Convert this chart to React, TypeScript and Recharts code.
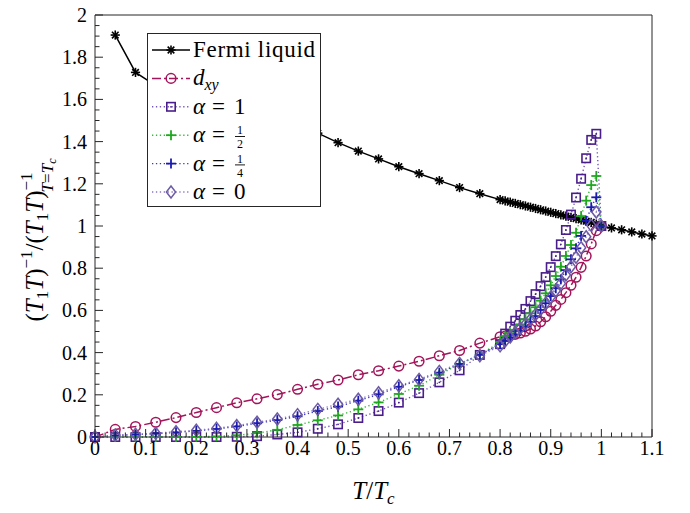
import React from "react";
import { Label, Legend, Line, LineChart, XAxis, YAxis } from "recharts";

const SERIF = "'Liberation Serif', 'DejaVu Serif', serif";
const AXIS = "#262626";

// temperature grid shared by d_xy and the alpha curves (T/Tc)
const tGrid = [
  0, 0.04, 0.08, 0.12, 0.16, 0.2, 0.24, 0.28, 0.32, 0.36, 0.4, 0.44, 0.48, 0.52, 0.56, 0.6, 0.64, 0.68, 0.72, 0.76, 0.8,
  0.81, 0.82, 0.83, 0.84, 0.85, 0.86, 0.87, 0.88, 0.89, 0.9, 0.91, 0.92, 0.93, 0.94, 0.95, 0.96, 0.97, 0.98, 0.99, 1.0,
];

const flT = [
  0.04, 0.08, 0.12, 0.16, 0.2, 0.24, 0.28, 0.32, 0.36, 0.4, 0.44, 0.48, 0.52, 0.56, 0.6, 0.64, 0.68, 0.72, 0.76, 0.8,
  0.81, 0.82, 0.83, 0.84, 0.85, 0.86, 0.87, 0.88, 0.89, 0.9, 0.91, 0.92, 0.93, 0.94, 0.95, 0.96, 0.97, 0.98, 0.99, 1.0,
  1.02, 1.04, 1.06, 1.08, 1.1,
];
const flValues = [
  1.905, 1.728, 1.665, 1.63, 1.6, 1.57, 1.545, 1.52, 1.495, 1.47, 1.44, 1.395, 1.355, 1.318, 1.281, 1.248, 1.215, 1.182,
  1.153, 1.125, 1.119, 1.113, 1.107, 1.101, 1.095, 1.089, 1.083, 1.077, 1.071, 1.065, 1.059, 1.053, 1.047, 1.041, 1.035,
  1.029, 1.023, 1.017, 1.009, 1.0, 0.991, 0.982, 0.972, 0.962, 0.953,
];
const dxyValues = [
  0, 0.036, 0.05, 0.07, 0.092, 0.116, 0.139, 0.162, 0.181, 0.201, 0.226, 0.25, 0.27, 0.295, 0.314, 0.336, 0.359, 0.385,
  0.41, 0.445, 0.475, 0.478, 0.482, 0.487, 0.493, 0.501, 0.512, 0.526, 0.546, 0.57, 0.596, 0.624, 0.652, 0.684, 0.719,
  0.757, 0.804, 0.858, 0.915, 0.978, 1.0,
];
const alpha1Values = [
  0, 0, 0, 0, 0, 0, 0, 0.001, 0.004, 0.012, 0.022, 0.039, 0.06, 0.09, 0.123, 0.163, 0.208, 0.259, 0.316, 0.389, 0.44,
  0.49, 0.523, 0.551, 0.578, 0.607, 0.644, 0.677, 0.715, 0.758, 0.805, 0.857, 0.913, 0.981, 1.054, 1.135, 1.224, 1.321,
  1.408, 1.437, 1.0,
];
const alphaHalfValues = [
  0, 0, 0, 0, 0, 0.001, 0.003, 0.008, 0.018, 0.034, 0.057, 0.079, 0.102, 0.131, 0.164, 0.204, 0.243, 0.295, 0.346, 0.39,
  0.45, 0.478, 0.492, 0.507, 0.534, 0.558, 0.586, 0.615, 0.646, 0.681, 0.719, 0.763, 0.807, 0.858, 0.91, 0.968, 1.047,
  1.12, 1.194, 1.237, 1.0,
];
const alphaQuarterValues = [
  0, 0.007, 0.011, 0.016, 0.022, 0.029, 0.038, 0.05, 0.065, 0.08, 0.098, 0.123, 0.144, 0.172, 0.202, 0.238, 0.27, 0.305,
  0.346, 0.39, 0.44, 0.455, 0.47, 0.486, 0.503, 0.523, 0.546, 0.573, 0.602, 0.634, 0.668, 0.705, 0.747, 0.791, 0.842,
  0.894, 0.953, 1.025, 1.089, 1.136, 1.0,
];
const alpha0Values = [
  0, 0.009, 0.013, 0.018, 0.025, 0.032, 0.041, 0.054, 0.07, 0.085, 0.106, 0.131, 0.155, 0.179, 0.21, 0.243, 0.273, 0.311,
  0.349, 0.385, 0.432, 0.455, 0.474, 0.495, 0.515, 0.535, 0.558, 0.581, 0.605, 0.634, 0.662, 0.693, 0.728, 0.768, 0.807,
  0.852, 0.897, 0.949, 1.003, 1.066, 1.0,
];

// all tick positions; majors every 0.1 (x) and 0.2 (y) get labels
const xTicks = Array.from({ length: 56 }, (_, i) => +(i * 0.02).toFixed(2));
const yTicks = Array.from({ length: 41 }, (_, i) => +(i * 0.05).toFixed(2));
const isMajor = (v: number, step: number) => Math.abs(v / step - Math.round(v / step)) < 1e-6;

const MAJOR = 8;
const MINOR = 4.5;

function BottomTick({ x, y, payload }: any) {
  const v = payload.value;
  const major = isMajor(v, 0.1);
  return (
    <g>
      <line x1={x} x2={x} y1={y} y2={y - (major ? MAJOR : MINOR)} stroke={AXIS} strokeWidth={1} />
      {major && (
        <text x={x} y={y + 18} textAnchor="middle" fontFamily={SERIF} fontSize={20} fill="#000">
          {String(+v.toFixed(1))}
        </text>
      )}
    </g>
  );
}
function TopTick({ x, y, payload }: any) {
  const major = isMajor(payload.value, 0.1);
  return <line x1={x} x2={x} y1={y} y2={y + (major ? MAJOR : MINOR)} stroke={AXIS} strokeWidth={1} />;
}
function LeftTick({ x, y, payload }: any) {
  const v = payload.value;
  const major = isMajor(v, 0.2);
  return (
    <g>
      <line x1={x} x2={x + (major ? MAJOR : MINOR)} y1={y} y2={y} stroke={AXIS} strokeWidth={1} />
      {major && (
        <text x={x - 8} y={y + 7} textAnchor="end" fontFamily={SERIF} fontSize={20} fill="#000">
          {String(+v.toFixed(1))}
        </text>
      )}
    </g>
  );
}
function RightTick({ x, y, payload }: any) {
  const major = isMajor(payload.value, 0.2);
  return <line x1={x} x2={x - (major ? MAJOR : MINOR)} y1={y} y2={y} stroke={AXIS} strokeWidth={1} />;
}

const toPoints = (xs: number[], ys: number[]) => xs.map((x, i) => ({ x, y: ys[i] }));

type Kind = "star" | "circle" | "square" | "plus" | "diamond";

function Marker({ kind, cx, cy, color }: { kind: Kind; cx: number; cy: number; color: string }) {
  if (cx == null || cy == null) return null;
  if (kind === "star") {
    const r = 4.6;
    const d = r * 0.72;
    return (
      <g stroke={color} strokeWidth={1.6}>
        <line x1={cx - r} y1={cy} x2={cx + r} y2={cy} />
        <line x1={cx} y1={cy - r} x2={cx} y2={cy + r} />
        <line x1={cx - d} y1={cy - d} x2={cx + d} y2={cy + d} />
        <line x1={cx - d} y1={cy + d} x2={cx + d} y2={cy - d} />
      </g>
    );
  }
  if (kind === "circle") {
    return <circle cx={cx} cy={cy} r={4.8} fill="none" stroke={color} strokeWidth={1.5} />;
  }
  if (kind === "square") {
    return (
      <g>
        <rect x={cx - 4.2} y={cy - 4.2} width={8.4} height={8.4} fill="none" stroke={color} strokeWidth={1.6} />
        <circle cx={cx} cy={cy} r={0.9} fill={color} />
      </g>
    );
  }
  if (kind === "plus") {
    return (
      <g stroke={color} strokeWidth={1.8}>
        <line x1={cx - 5} y1={cy} x2={cx + 5} y2={cy} />
        <line x1={cx} y1={cy - 5} x2={cx} y2={cy + 5} />
      </g>
    );
  }
  return (
    <polygon
      points={`${cx},${cy - 6} ${cx + 4.6},${cy} ${cx},${cy + 6} ${cx - 4.6},${cy}`}
      fill="none"
      stroke={color}
      strokeWidth={1.5}
    />
  );
}

const series = [
  { id: "fl", kind: "star" as Kind, color: "#000000", line: "#000000", dash: undefined, width: 1.5, data: toPoints(flT, flValues) },
  { id: "dxy", kind: "circle" as Kind, color: "#A3155A", line: "#A3155A", dash: "9 3 2 3", width: 1.5, data: toPoints(tGrid, dxyValues) },
  { id: "a1", kind: "square" as Kind, color: "#4A1E8A", line: "#7456B8", dash: "1.3 2.6", width: 1.4, data: toPoints(tGrid, alpha1Values) },
  { id: "aHalf", kind: "plus" as Kind, color: "#1FA81F", line: "#35B835", dash: "1.3 2.6", width: 1.4, data: toPoints(tGrid, alphaHalfValues) },
  { id: "aQuarter", kind: "plus" as Kind, color: "#1A1AB0", line: "#3838C4", dash: "1.3 2.6", width: 1.4, data: toPoints(tGrid, alphaQuarterValues) },
  { id: "a0", kind: "diamond" as Kind, color: "#6D5BA3", line: "#8C74C4", dash: "1.3 2.6", width: 1.4, data: toPoints(tGrid, alpha0Values) },
];

function LegendLabel({ id, y }: { id: string; y: number }) {
  const x = 46;
  const base = y + 7;
  if (id === "fl") {
    return (
      <text x={x} y={base} fontFamily={SERIF} fontSize={23} fill="#000" textLength={122} lengthAdjust="spacing">
        Fermi liquid
      </text>
    );
  }
  if (id === "dxy") {
    return (
      <text x={x} y={base} fontFamily={SERIF} fontSize={23} fill="#000" fontStyle="italic">
        d<tspan fontSize={16} dy={5}>xy</tspan>
      </text>
    );
  }
  const alphaEq = (
    <text x={x} y={base} fontFamily={SERIF} fontSize={23} fill="#000">
      <tspan fontStyle="italic">α</tspan>
      <tspan dx={7}>=</tspan>
    </text>
  );
  if (id === "a1" || id === "a0") {
    return (
      <g>
        {alphaEq}
        <text x={x + 41} y={base} fontFamily={SERIF} fontSize={23} fill="#000">
          {id === "a1" ? "1" : "0"}
        </text>
      </g>
    );
  }
  const den = id === "aHalf" ? "2" : "4";
  return (
    <g>
      {alphaEq}
      <text x={x + 47} y={y - 1} textAnchor="middle" fontFamily={SERIF} fontSize={12} fill="#000">1</text>
      <line x1={x + 42} x2={x + 52} y1={y + 1.3} y2={y + 1.3} stroke="#000" strokeWidth={0.9} />
      <text x={x + 47} y={y + 13} textAnchor="middle" fontFamily={SERIF} fontSize={12} fill="#000">{den}</text>
    </g>
  );
}

function LegendBox() {
  return (
    <svg width={175} height={175} style={{ display: "block" }}>
      <rect x={0.5} y={0.5} width={173} height={173} fill="#fff" stroke={AXIS} strokeWidth={1} />
      {series.map((s, i) => {
        const y = 17 + i * 28.4;
        return (
          <g key={s.id}>
            <line x1={5} x2={43} y1={y} y2={y} stroke={s.line} strokeWidth={s.width} strokeDasharray={s.dash} />
            <Marker kind={s.kind} cx={24} cy={y} color={s.color} />
            <LegendLabel id={s.id} y={y} />
          </g>
        );
      })}
    </svg>
  );
}

function XTitle(props: any) {
  const vb = props.viewBox || { x: 95, y: 437, width: 557 };
  const cx = vb.x + vb.width / 2;
  return (
    <text x={cx} y={437 + 62} textAnchor="middle" fontFamily={SERIF} fontSize={25} fill="#000">
      <tspan fontStyle="italic">T</tspan>
      <tspan>/</tspan>
      <tspan fontStyle="italic">T</tspan>
      <tspan fontStyle="italic" fontSize={17} dy={5}>c</tspan>
    </text>
  );
}

function YTitle(props: any) {
  const vb = props.viewBox || { y: 15, height: 422 };
  const cx = 43;
  const cy = vb.y + vb.height / 2 + 14;
  return (
    <text x={cx} y={cy} transform={`rotate(-90 ${cx} ${cy})`} textAnchor="middle" fontFamily={SERIF} fontSize={25} fill="#000">
      <tspan>(</tspan>
      <tspan fontStyle="italic">T</tspan>
      <tspan fontSize={17} dy={5}>1</tspan>
      <tspan fontStyle="italic" dy={-5}>T</tspan>
      <tspan>)</tspan>
      <tspan fontSize={17} dy={-11}>−1</tspan>
      <tspan dy={11}>/(</tspan>
      <tspan fontStyle="italic">T</tspan>
      <tspan fontSize={17} dy={5}>1</tspan>
      <tspan fontStyle="italic" dy={-5}>T</tspan>
      <tspan>)</tspan>
      <tspan fontSize={17} dy={-11}>−1</tspan>
      <tspan fontSize={17} fontStyle="italic" dx={-20} dy={21}>T</tspan>
      <tspan fontSize={17}>=</tspan>
      <tspan fontSize={17} fontStyle="italic">T</tspan>
      <tspan fontSize={12} fontStyle="italic" dy={3}>c</tspan>
    </text>
  );
}

export default function App() {
  return (
    <div style={{ position: "absolute", left: 0, top: 0, width: 690, height: 513, background: "#fff" }}>
      <LineChart width={690} height={513} margin={{ top: 14, right: 37, bottom: 75, left: 94 }}>
        <XAxis
          xAxisId="x"
          type="number"
          dataKey="x"
          domain={[0, 1.1]}
          ticks={xTicks}
          interval={0}
          height={1}
          tickSize={0}
          tickMargin={0}
          tickLine={false}
          tick={BottomTick}
          stroke={AXIS}
        >
          <Label content={XTitle} />
        </XAxis>
        <XAxis
          xAxisId="xTop"
          orientation="top"
          type="number"
          dataKey="x"
          domain={[0, 1.1]}
          ticks={xTicks}
          interval={0}
          height={1}
          tickSize={0}
          tickMargin={0}
          tickLine={false}
          tick={TopTick}
          stroke={AXIS}
        />
        <YAxis
          yAxisId="y"
          type="number"
          dataKey="y"
          domain={[0, 2]}
          ticks={yTicks}
          interval={0}
          width={1}
          tickSize={0}
          tickMargin={0}
          tickLine={false}
          tick={LeftTick}
          stroke={AXIS}
        >
          <Label content={YTitle} />
        </YAxis>
        <YAxis
          yAxisId="yRight"
          orientation="right"
          type="number"
          dataKey="y"
          domain={[0, 2]}
          ticks={yTicks}
          interval={0}
          width={1}
          tickSize={0}
          tickMargin={0}
          tickLine={false}
          tick={RightTick}
          stroke={AXIS}
        />
        <Legend
          layout="vertical"
          align="center"
          verticalAlign="middle"
          content={() => <LegendBox />}
          wrapperStyle={{ left: 147, top: 33, width: 175, height: 175 }}
        />
        {series.map((s) => (
          <Line
            key={s.id}
            xAxisId="x"
            yAxisId="y"
            data={s.data}
            dataKey="y"
            type="linear"
            stroke={s.line}
            strokeWidth={s.width}
            strokeDasharray={s.dash}
            isAnimationActive={false}
            activeDot={false}
            dot={(p: any) => <Marker key={`${s.id}-${p.index}`} kind={s.kind} cx={p.cx} cy={p.cy} color={s.color} />}
          />
        ))}
      </LineChart>
    </div>
  );
}
